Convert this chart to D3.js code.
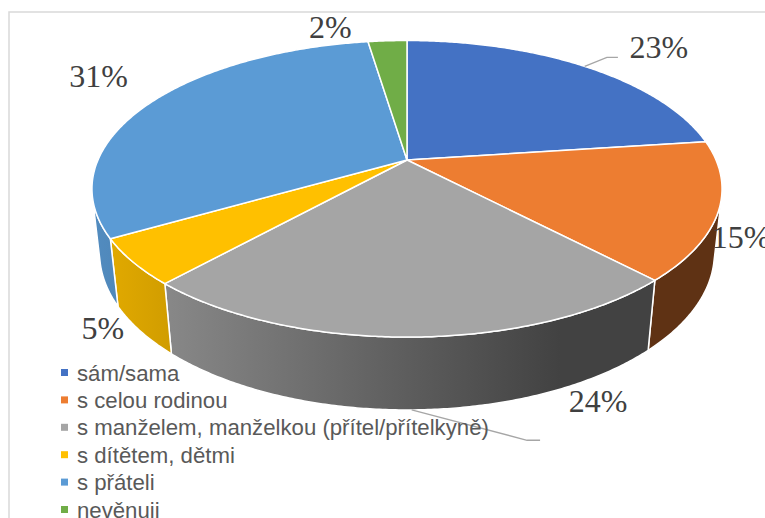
<!DOCTYPE html>
<html>
<head>
<meta charset="utf-8">
<script src="https://cdn.jsdelivr.net/npm/d3@7"></script>
<style>
  body { margin: 0; background: #fff; }
  svg { display: block; }
</style>
</head>
<body>
<div id="chart"></div>
<script>
// data
const categories = [
  "sám/sama",
  "s celou rodinou",
  "s manželem, manželkou (přítel/přítelkyně)",
  "s dítětem, dětmi",
  "s přáteli",
  "nevěnuji"
];
const values = [22.9, 15.0, 23.8, 5.0, 30.9, 2.4];
const labels = ["23%", "15%", "24%", "5%", "31%", "2%"];
const colors = ["#4472C4", "#ED7D31", "#A5A5A5", "#FFC000", "#5B9BD5", "#70AD47"];

// label offsets from the projected anchor (excel "best fit" placement)
const labelNudge = [[44, 8], [-45, 26], [185, 29], [34, 53], [-5, -5], [-54, 17]];
const leaders = [
  { slice: 0, bottom: false, elbow: [-52, -1], end: [-41, -1] },
  { slice: 2, bottom: true, elbow: [-71, 28], end: [-58, 28] }
];

var width = 765, height = 518;

function getTextWidth(text, font) {
  var tmp = d3.select("body").append("svg").attr("height", 0);
  var t = tmp.append("text").style("font", font).text(text);
  var w = t.node().getComputedTextLength();
  tmp.remove();
  return w;
}

// 3d perspective setup for the tilted pie
var cx = 407, cy = 160;
var tilt = 27.5 * Math.PI / 180;
var camDist = 4.566, focal = 1411, thick = 0.236;
var sinA = Math.sin(tilt), cosA = Math.cos(tilt);

function project(theta, r, yy) {
  var X = r * Math.sin(theta), Z = -r * Math.cos(theta);
  var depth = camDist - (yy * sinA + Z * cosA);
  return [cx + focal * X / depth, cy - focal * (yy * cosA - Z * sinA) / depth];
}

// side wall is visible where the outward normal faces the camera
var zMin = 1 / (camDist * cosA);
var visFrom = Math.acos(-zMin), visTo = 2 * Math.PI - Math.acos(-zMin);

var pie = d3.pie().sort(null).value(d => d);
var arcs = pie(values);

var svg = d3.select("#chart").append("svg")
  .attr("width", width).attr("height", height);

// chart area frame (cropped at right and bottom)
svg.append("path")
  .attr("d", "M9," + height + "V12H" + width)
  .attr("fill", "none")
  .attr("stroke", "#d9d9d9")
  .attr("stroke-width", 1.5);

var defs = svg.append("defs");
var shade = d3.scaleLinear().domain([92, 560]).range([0.9, 0.4]).clamp(true);

colors.forEach(function (c, i) {
  var g = defs.append("linearGradient")
    .attr("id", "side" + i)
    .attr("gradientUnits", "userSpaceOnUse")
    .attr("x1", 92).attr("x2", 560).attr("y1", 0).attr("y2", 0);
  var base = d3.rgb(c);
  [92, 560].forEach(function (x, k) {
    var f = shade(x);
    g.append("stop")
      .attr("offset", k)
      .attr("stop-color", d3.rgb(base.r * f, base.g * f, base.b * f).formatHex());
  });
});

var line = d3.line();
var step = Math.PI / 360;

function rimPoints(a0, a1, yy) {
  var pts = [];
  var n = Math.max(2, Math.ceil((a1 - a0) / step));
  for (var k = 0; k <= n; k++) {
    pts.push(project(a0 + (a1 - a0) * k / n, 1, yy));
  }
  return pts;
}

// side walls first
svg.append("g").selectAll("path")
  .data(arcs.filter(d => d.endAngle > visFrom && d.startAngle < visTo))
  .enter().append("path")
  .attr("d", function (d) {
    var a0 = Math.max(d.startAngle, visFrom), a1 = Math.min(d.endAngle, visTo);
    var top = rimPoints(a0, a1, 0);
    var bot = rimPoints(a0, a1, -thick).reverse();
    return line(top.concat(bot)) + "Z";
  })
  .attr("fill", d => "url(#side" + d.index + ")")
  .attr("stroke", "#fff")
  .attr("stroke-width", 1.5)
  .attr("stroke-linejoin", "round");

// top faces
svg.append("g").selectAll("path")
  .data(arcs)
  .enter().append("path")
  .attr("d", function (d) {
    var pts = [project(0, 0, 0)].concat(rimPoints(d.startAngle, d.endAngle, 0));
    return line(pts) + "Z";
  })
  .attr("fill", d => colors[d.index])
  .attr("stroke", "#fff")
  .attr("stroke-width", 1.5)
  .attr("stroke-linejoin", "round");

// data labels
var labelPos = arcs.map(function (d, i) {
  var p = project((d.startAngle + d.endAngle) / 2, 1.2, 0);
  return [p[0] + labelNudge[i][0], p[1] + labelNudge[i][1]];
});

svg.append("g").selectAll("path")
  .data(leaders)
  .enter().append("path")
  .attr("d", function (l) {
    var d = arcs[l.slice];
    var s = project((d.startAngle + d.endAngle) / 2, 1, l.bottom ? -thick : 0);
    var p = labelPos[l.slice];
    return line([s, [p[0] + l.elbow[0], p[1] + l.elbow[1]], [p[0] + l.end[0], p[1] + l.end[1]]]);
  })
  .attr("fill", "none")
  .attr("stroke", "#a6a6a6")
  .attr("stroke-width", 1.3);

svg.append("g").selectAll("text")
  .data(labels)
  .enter().append("text")
  .attr("x", (d, i) => labelPos[i][0])
  .attr("y", (d, i) => labelPos[i][1])
  .attr("text-anchor", "middle")
  .style("font-family", "'Liberation Serif', 'Times New Roman', serif")
  .style("font-size", "32px")
  .style("fill", "#404040")
  .text(d => d);

// legend, font sized so the longest entry spans like the original
var legendFont = "'Liberation Sans', Arial, sans-serif";
var longest = d3.max(categories, c => getTextWidth(c, "20px " + legendFont));
var legendSize = 20 * 412 / longest;

var legend = svg.append("g").attr("transform", "translate(61,369)");
var rows = legend.selectAll("g")
  .data(categories)
  .enter().append("g")
  .attr("transform", (d, i) => "translate(0," + i * 27.4 + ")");

rows.append("rect")
  .attr("width", 7).attr("height", 7)
  .attr("fill", (d, i) => colors[i]);

rows.append("text")
  .attr("x", 16)
  .attr("y", 11.5)
  .style("font-family", legendFont)
  .style("font-size", legendSize + "px")
  .style("fill", "#595959")
  .text(d => d);
</script>
</body>
</html>
